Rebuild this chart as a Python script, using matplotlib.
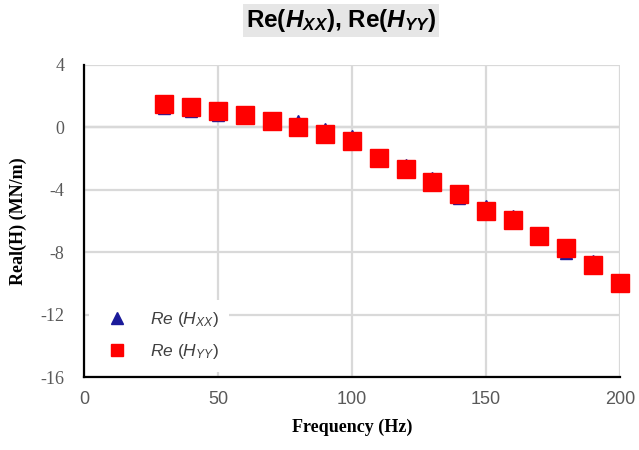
import matplotlib
matplotlib.use("Agg")
import matplotlib.pyplot as plt

# Frequency sweep and real parts of the direct dynamic stiffness terms
freq_hz = [30, 40, 50, 60, 70, 80, 90, 100, 110, 120, 130, 140, 150, 160, 170, 180, 190, 200]
re_hxx = [1.26, 1.06, 0.81, 0.97, 0.63, 0.40, -0.09, -0.56, -1.76, -2.44, -3.23, -4.54,
          -5.07, -5.71, -6.96, -8.08, -8.58, -9.99]
re_hyy = [1.48, 1.29, 1.05, 0.78, 0.41, 0.03, -0.42, -0.87, -1.96, -2.69, -3.50, -4.29,
          -5.36, -5.96, -6.96, -7.75, -8.82, -9.99]

x_ticks = [0, 50, 100, 150, 200]
y_ticks = [4, 0, -4, -8, -12, -16]

plt.rcParams["mathtext.fontset"] = "custom"
plt.rcParams["mathtext.rm"] = "Liberation Sans"
plt.rcParams["mathtext.it"] = "Liberation Sans:italic"
plt.rcParams["mathtext.bf"] = "Liberation Sans:bold"
plt.rcParams["mathtext.bfit"] = "Liberation Sans:bold:italic"

fig = plt.figure(figsize=(6.39, 4.5), dpi=100)
ax = fig.add_axes([0.1315, 0.1622, 0.8385, 0.6934])

ax.set_xlim(0, 200)
ax.set_ylim(-16, 4)
ax.set_xticks(x_ticks)
ax.set_yticks(y_ticks)
ax.set_yticklabels([str(v) for v in y_ticks])

# Light gridlines, slightly darker zero line
ax.grid(True, color="#d9d9d9", linewidth=1.6, zorder=0)
ax.axhline(0, color="#bfbfbf", linewidth=1.6, zorder=0.5)
ax.set_axisbelow(True)

for side in ("top", "right"):
    ax.spines[side].set_visible(False)
for side in ("left", "bottom"):
    ax.spines[side].set_color("black")
    ax.spines[side].set_linewidth(1.6)
    ax.spines[side].set_zorder(3)

ax.tick_params(axis="both", length=0, pad=10, colors="#595959")
for lbl in ax.get_xticklabels():
    lbl.set_fontfamily("Liberation Sans")
    lbl.set_fontsize(13)
for lbl in ax.get_yticklabels():
    lbl.set_fontfamily("Liberation Serif")
    lbl.set_fontsize(13)
ax.tick_params(axis="y", pad=14)

ax.plot(freq_hz, re_hxx, linestyle="none", marker="^", markersize=8,
        color="#1a1a9a", label=r"$\mathit{Re\ (H_{XX})}$", zorder=4, clip_on=False)
ax.plot(freq_hz, re_hyy, linestyle="none", marker="s", markersize=13,
        color="#ff0000", label=r"$\mathit{Re\ (H_{YY})}$", zorder=5, clip_on=False)

ax.set_xlabel("Frequency (Hz)", fontfamily="Liberation Serif", fontweight="bold",
              fontsize=13, labelpad=8)
ax.set_ylabel("Real(H) (MN/m)", fontfamily="Liberation Serif", fontweight="bold",
              fontsize=13, labelpad=10)

leg = ax.legend(loc="lower left", bbox_to_anchor=(0.0, 0.0), frameon=True,
                framealpha=1.0, edgecolor="none", facecolor="white",
                fontsize=12.5, handletextpad=0.9, borderpad=0.6,
                labelspacing=0.75, borderaxespad=0.3)
for t in leg.get_texts():
    t.set_color("#404040")
leg.legend_handles[0].set_markersize(8)
leg.legend_handles[1].set_markersize(9)

fig.text(0.534, 0.955, r"Re($\mathbfit{H_{XX}}$), Re($\mathbfit{H_{YY}}$)",
         ha="center", va="center", fontfamily="Liberation Sans", fontweight="bold",
         fontsize=17.5, color="black",
         bbox=dict(facecolor="#e6e6e6", edgecolor="none", boxstyle="square,pad=0.12"))

fig.savefig("out.png", dpi=100)
